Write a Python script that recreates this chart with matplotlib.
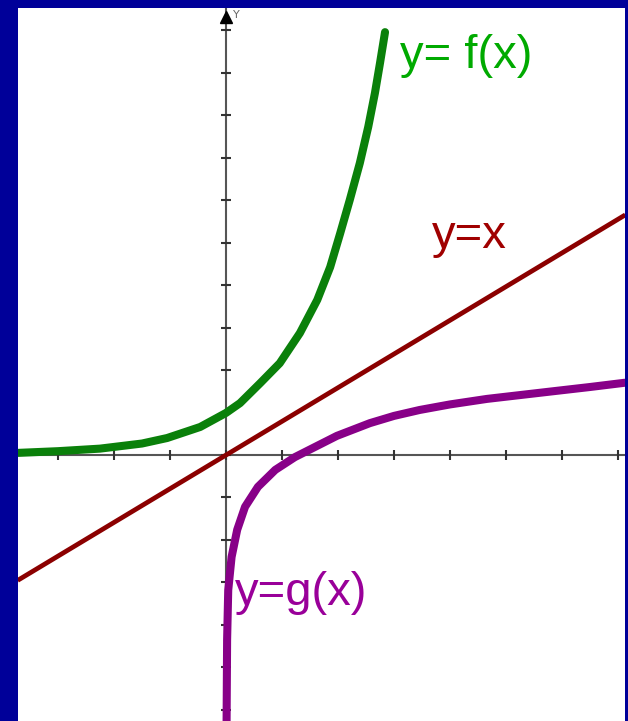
import matplotlib
matplotlib.use("Agg")
import matplotlib.pyplot as plt

# curve points (x / y in tick units)
f_x = [-3.71, -3.0, -2.25, -1.5, -1.05, -0.46, 0.0, 0.25, 0.61, 0.96, 1.32,
       1.63, 1.86, 2.04, 2.21, 2.39, 2.54, 2.66, 2.75, 2.84]
f_y = [0.05, 0.09, 0.15, 0.27, 0.40, 0.66, 0.99, 1.22, 1.69, 2.16, 2.87,
       3.65, 4.42, 5.22, 6.00, 6.87, 7.72, 8.52, 9.22, 9.95]

g_x = [0.01, 0.02, 0.04, 0.10, 0.20, 0.34, 0.57, 0.88, 1.23, 1.59, 1.98,
       2.57, 3.0, 3.46, 4.0, 4.66, 5.25, 5.84, 6.5, 7.12]
g_y = [-6.4, -4.35, -3.18, -2.40, -1.76, -1.22, -0.75, -0.35, -0.05, 0.19, 0.45,
       0.75, 0.92, 1.06, 1.19, 1.32, 1.41, 1.50, 1.60, 1.70]

line_x = [-3.72, 7.13]
line_y = [-2.95, 5.65]

x_ticks = list(range(-3, 8))
y_ticks = list(range(-6, 11))

XLIM = (-3.714, 7.125)
YLIM = (-6.259, 10.518)

NAVY = "#000099"
AXIS = "#555555"

fig = plt.figure(figsize=(6.28, 7.21), dpi=100, facecolor=NAVY)
ax = fig.add_axes([18 / 628, 0, 607 / 628, 713 / 721])
ax.set_facecolor("white")
ax.set_xlim(*XLIM)
ax.set_ylim(*YLIM)
for s in ax.spines.values():
    s.set_visible(False)
ax.set_xticks([])
ax.set_yticks([])

# coordinate axes with small cross ticks
ax.axhline(0, color=AXIS, lw=1.5, zorder=1)
ax.axvline(0, color=AXIS, lw=1.5, zorder=1)
ax.plot(x_ticks, [0] * len(x_ticks), ls="none", marker="|", ms=7, mew=1.5,
        color="#333333", zorder=1)
ax.plot([0] * len(y_ticks), y_ticks, ls="none", marker="_", ms=7, mew=1.5,
        color="#333333", zorder=1)
ax.plot(0, 10.3, marker="^", ms=8, color="black", zorder=2)
ax.text(0.12, 10.35, "Y", fontsize=8, color="#666666", va="center", ha="left",
        family="DejaVu Sans")

# curves
ax.plot(line_x, line_y, color="#8B0000", lw=3.4, solid_capstyle="butt", zorder=3)
ax.plot(f_x, f_y, color="#0A800A", lw=5.8, solid_capstyle="round",
        solid_joinstyle="round", zorder=4)
ax.plot(g_x, g_y, color="#880088", lw=5.8, solid_capstyle="round",
        solid_joinstyle="round", zorder=4)

# labels
lab = dict(fontsize=34, family="Liberation Sans", ha="left", va="baseline")
ax.text(3.11, (455 - 68) / 42.5, "y= f(x)", color="#00AA00", **lab)
ax.text(3.68, (455 - 248) / 42.5, "y=x", color="#A00000", **lab)
ax.text(0.16, (455 - 605) / 42.5, "y=g(x)", color="#990099", zorder=5, **lab)

fig.savefig("out.png", dpi=100, facecolor=NAVY)
